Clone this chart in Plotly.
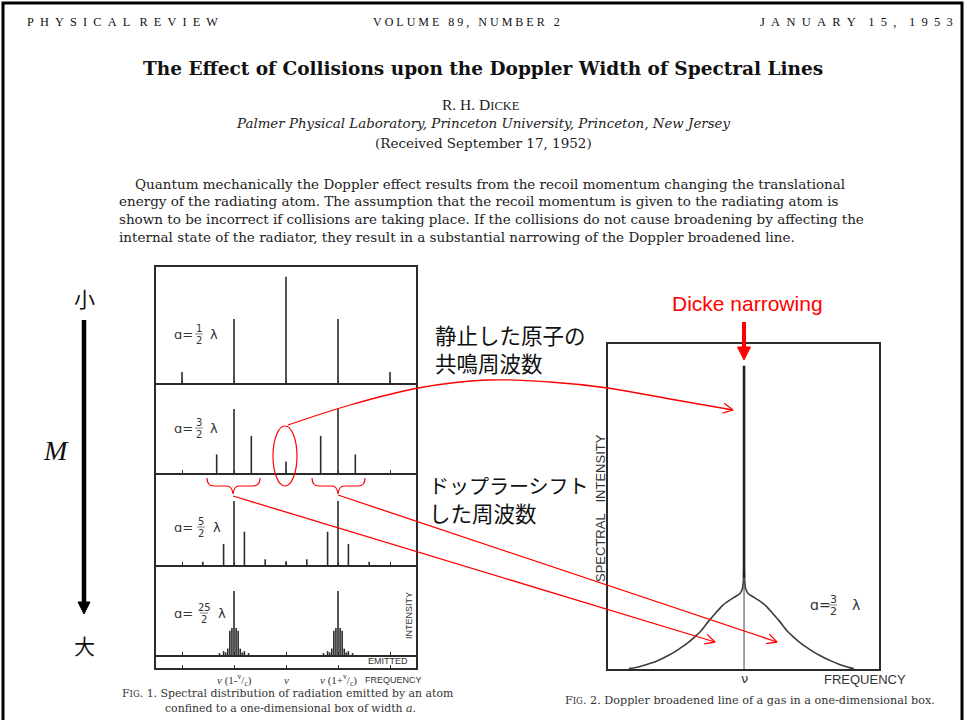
import math
import plotly.graph_objects as go

W, H = 967, 720
INK = "#2b2b2b"
RED = "#ff0000"
SERIF = "DejaVu Serif"
TSERIF = "Liberation Serif"
SANS = "Liberation Sans"
CJK = "Noto Sans CJK JP"

# ---------------- Fig. 1 data: line offsets from nu (units of v/c) and relative intensities
p1_offset = [-2, -1, 0, 1, 2]
p1_intensity = [0.17, 1.00, 1.66, 1.00, 0.17]
p2_offset = [-4/3, -1, -2/3, 0, 2/3, 1, 4/3]
p2_intensity = [0.29, 1.00, 0.58, 0.18, 0.58, 1.00, 0.29]
p3_offset = [-1.6, -1.2, -1.0, -0.8, -0.4, 0.0, 0.4, 0.8, 1.0, 1.2, 1.6]
p3_intensity = [0.05, 0.33, 1.00, 0.52, 0.09, 0.06, 0.09, 0.52, 1.00, 0.33, 0.05]
p4_offset = [-1.28, -1.20, -1.16, -1.12, -1.08, -1.04, -1.00, -0.96, -0.92, -0.88, -0.84, -0.80, -0.72,
             0.72, 0.80, 0.84, 0.88, 0.92, 0.96, 1.00, 1.04, 1.08, 1.12, 1.16, 1.20, 1.28]
p4_intensity = [0.03, 0.06, 0.04, 0.10, 0.38, 0.42, 1.00, 0.42, 0.38, 0.10, 0.04, 0.06, 0.03,
                0.03, 0.06, 0.04, 0.10, 0.38, 0.42, 1.00, 0.42, 0.38, 0.10, 0.04, 0.06, 0.03]
panel_num = ["1", "3", "5", "25"]
panel_den = ["2", "2", "2", "2"]
fig1_ticks = [-2, -1, 0, 1, 2]

# ---------------- Fig. 2 data: Doppler broadened line with Dicke-narrowed core
f2_left_x = [-3.20, -3.00, -2.80, -2.60, -2.40, -2.20, -2.00, -1.80, -1.60, -1.40, -1.20, -1.00,
             -0.80, -0.60, -0.40, -0.25, -0.12, -0.05, -0.02, -0.008]
f2_left_y = [0.005, 0.02, 0.045, 0.075, 0.11, 0.155, 0.205, 0.265, 0.33, 0.41, 0.50, 0.62,
             0.73, 0.835, 0.905, 0.95, 0.99, 1.05, 1.15, 1.30]
f2_right_x = [0.008, 0.02, 0.05, 0.12, 0.25, 0.40, 0.60, 0.80, 1.00, 1.20, 1.40, 1.60, 1.80,
              2.00, 2.20, 2.40, 2.60, 2.80, 2.95, 3.05]
f2_right_y = [1.30, 1.15, 1.05, 0.99, 0.95, 0.905, 0.835, 0.73, 0.62, 0.50, 0.41, 0.33, 0.265,
              0.205, 0.155, 0.11, 0.07, 0.035, 0.015, 0.005]
f2_spike_x = [0.0, 0.0]
f2_spike_y = [1.20, 3.99]
f2_center = 0.0

# ---------------- layout geometry (pixels)
F1_L, F1_R = 156, 416
PANELS = [(267, 383), (383, 473), (473, 565), (565, 655)]
STRIP = (655, 668)
F2_L, F2_R, F2_T, F2_B = 608, 879, 344, 669
PX_PER_UNIT = 64.0
F2_XR = [-3.78, 3.75]
F2_YR = [0, 4.276]


def xd(l, r):
    return [l / W, r / W]


def yd(t, b):
    return [1 - b / H, 1 - t / H]


fig = go.Figure()

offsets = [p1_offset, p2_offset, p3_offset, p4_offset]
intens = [p1_intensity, p2_intensity, p3_intensity, p4_intensity]
for i, (off, inten) in enumerate(zip(offsets, intens)):
    xs, ys = [], []
    for o, h in zip(off, inten):
        xs += [o, o, None]
        ys += [0, h, None]
    fig.add_trace(go.Scatter(x=xs, y=ys, mode="lines", line=dict(color=INK, width=1.6),
                             xaxis="x%d" % (i + 1) if i else "x", yaxis="y%d" % (i + 1) if i else "y",
                             hoverinfo="skip", showlegend=False))

fig.add_trace(go.Scatter(x=[None], y=[None], xaxis="x5", yaxis="y5", showlegend=False))

# Fig. 2 curve
CURVE = "#3c3c3c"
for xs, ys in [(f2_left_x, f2_left_y), (f2_right_x, f2_right_y)]:
    fig.add_trace(go.Scatter(x=xs, y=ys, mode="lines", line=dict(color=CURVE, width=1.6, shape="spline", smoothing=0.7),
                             xaxis="x6", yaxis="y6", hoverinfo="skip", showlegend=False))
fig.add_trace(go.Scatter(x=f2_spike_x, y=f2_spike_y, mode="lines", line=dict(color="#222", width=2.6),
                         xaxis="x6", yaxis="y6", hoverinfo="skip", showlegend=False))
fig.add_trace(go.Scatter(x=[f2_center, f2_center], y=[0, f2_spike_y[0]], mode="lines",
                         line=dict(color="#555", width=1.1), xaxis="x6", yaxis="y6",
                         hoverinfo="skip", showlegend=False))


# ---------------- overlay (pixel space) annotations
def ov(xs, ys, color=RED, width=1.3, shape="linear", fill=None):
    fig.add_trace(go.Scatter(x=xs, y=ys, mode="lines", xaxis="x7", yaxis="y7",
                             line=dict(color=color, width=width, shape=shape, smoothing=1.0),
                             fill=fill, fillcolor=color, hoverinfo="skip", showlegend=False))


def chevron(tip, frm, L=11, ang=27):
    dx, dy = tip[0] - frm[0], tip[1] - frm[1]
    n = math.hypot(dx, dy)
    bx, by = -dx / n, -dy / n
    pts = []
    for s in (1, -1):
        a = math.radians(ang * s)
        rx = bx * math.cos(a) - by * math.sin(a)
        ry = bx * math.sin(a) + by * math.cos(a)
        pts.append((tip[0] + L * rx, tip[1] + L * ry))
    ov([pts[0][0], tip[0], pts[1][0]], [pts[0][1], tip[1], pts[1][1]])


cx = [288, 350, 418, 487, 550, 608, 670, 733]
cy = [425, 405, 388, 380, 382, 388, 399, 410]
ov(cx, cy, shape="spline")
chevron((733, 410), (700, 404))
ov([233, 715], [496, 642])
chevron((715, 642), (233, 496))
ov([338, 777], [495, 642])
chevron((777, 642), (338, 495))
ov([744, 744], [322, 349], width=4)
ov([737.5, 750.5, 744, 737.5], [347, 347, 360, 347], width=1, fill="toself")
ov([84, 84], [320, 604], color="black", width=4.5)
ov([78, 90, 84, 78], [602, 602, 614, 602], color="black", width=1, fill="toself")

shapes = []
shapes.append(dict(type="rect", xref="x7", yref="y7", x0=3, x1=962, y0=3, y1=730,
                   line=dict(color="black", width=3), layer="above"))
shapes.append(dict(type="circle", xref="x7", yref="y7", x0=273, x1=297, y0=426, y1=486,
                   line=dict(color=RED, width=1.2), layer="above"))


def brace(x0, x1, xm, yt=478, yh=486, yb=494):
    return ("M %f,%f Q %f,%f %f,%f L %f,%f Q %f,%f %f,%f Q %f,%f %f,%f L %f,%f Q %f,%f %f,%f" %
            (x0, yt, x0, yh, x0 + 7, yh, xm - 6, yh, xm - 1, yh, xm, yb,
             xm + 1, yh, xm + 6, yh, x1 - 7, yh, x1, yh, x1, yt))


for (a, b, m) in [(207, 260, 233), (312, 365, 338)]:
    shapes.append(dict(type="path", xref="x7", yref="y7", path=brace(a, b, m),
                       line=dict(color=RED, width=1.2), layer="above"))

ann = []


def T(x, y, text, size=12, family=SERIF, color=INK, xa="center", ya="middle", angle=0, align="center"):
    ann.append(dict(x=x, y=y, xref="x7", yref="y7", text=text, showarrow=False,
                    font=dict(size=size, family=family, color=color), align=align,
                    xanchor=xa, yanchor=ya, textangle=angle))


def spaced(s, gap=1, wgap=3):
    g = "\u00a0" * gap
    return ("\u00a0" * wgap).join(g.join(list(w)) for w in s.split(" "))


# header
T(25, 22, spaced("PHYSICAL REVIEW", 2, 3), 12.3, family=TSERIF, xa="left", color="#111")
T(466, 22, spaced("VOLUME 89, NUMBER 2", 1, 3), 12, family=TSERIF, color="#111")
T(955, 22, spaced("JANUARY 15, 1953", 2, 4), 12.5, family=TSERIF, xa="right", color="#111")
T(483, 68, "<b>The Effect of Collisions upon the Doppler Width of Spectral Lines</b>", 18.5, color="#111")
T(481, 104, "R. H. D<span style='font-size:12.5px'>ICKE</span>", 15.5, family=TSERIF, color="#222")
T(483, 123, "<i>Palmer Physical Laboratory, Princeton University, Princeton, New Jersey</i>", 13.4, color="#222")
T(483, 143, "(Received September 17, 1952)", 13.5, color="#222")
abstract = [
    (133, 184, "Quantum mechanically the Doppler effect results from the recoil momentum changing the translational"),
    (117, 201, "energy of the radiating atom. The assumption that the recoil momentum is given to the radiating atom is"),
    (117, 219, "shown to be incorrect if collisions are taking place. If the collisions do not cause broadening by affecting the"),
    (117, 237, "internal state of the radiator, they result in a substantial narrowing of the Doppler broadened line."),
]
for x, y, s in abstract:
    T(x, y, s, 13.5, xa="left", color="#222")


def alabel(xa, xf, xl, yc, num, den, size=13, fsize=10):
    T(xa, yc, "ɑ=", size, family="DejaVu Sans", xa="left", color="#333")
    T(xf, yc - 6, num, fsize, family="DejaVu Sans", color="#333")
    T(xf, yc + 6, den, fsize, family="DejaVu Sans", color="#333")
    T(xl, yc, "λ", size, family="DejaVu Sans", color="#333")
    shapes.append(dict(type="line", xref="x7", yref="y7", x0=xf - 4, x1=xf + 4, y0=yc, y1=yc,
                       line=dict(color="#666", width=0.8)))


label_pos = [(172, 199, 214, 334), (172, 199, 214, 428), (172, 201, 217, 527), (172, 204, 222, 613)]
for (xa, xf, xl, yc), n, d in zip(label_pos, panel_num, panel_den):
    alabel(xa, xf, xl, yc, n, d)
alabel(808, 833, 856, 605, "3", "2", size=14, fsize=11)

# Fig.1 texts
T(410, 661, "EMITTED", 9, family=SANS, xa="right", color="#333")
T(409, 616, "INTENSITY", 9, family=SANS, angle=-90, color="#333")
T(393, 680, "FREQUENCY", 9, family=SANS, color="#333")
T(234, 680, "<i>ν</i> (1-<sup>v</sup>/<sub>c</sub>)", 11, family=TSERIF, color="#333")
T(286, 680, "<i>ν</i>", 11, family=TSERIF, color="#333")
T(338, 680, "<i>ν</i> (1+<sup>v</sup>/<sub>c</sub>)", 11, family=TSERIF, color="#333")
T(288, 693, "F<span style='font-size:8.5px'>IG</span>. 1. Spectral distribution of radiation emitted by an atom", 10.9, color="#333")
T(290, 708, "confined to a one-dimensional box of width <i>a</i>.", 10.9, color="#333")

# Fig.2 texts
T(600, 508, "SPECTRAL\u00a0\u00a0\u00a0INTENSITY", 13, family=SANS, angle=-90, color="#333")
T(744, 678, "ν", 13, family="DejaVu Sans", color="#333")
T(865, 679, "FREQUENCY", 13, family=SANS, color="#333")
T(750, 700, "F<span style='font-size:8.5px'>IG</span>. 2. Doppler broadened line of a gas in a one-dimensional box.", 11.2, color="#333")

# red / Japanese annotations
T(747, 303, "Dicke narrowing", 21, family=SANS, color=RED)
T(433, 348.5, "静止した原子の<br>共鳴周波数", 21.5, family=CJK, xa="left", color="#111", align="left")
T(427, 499.5, "<span style='font-size:20px'>ドップラーシフト</span><br>した周波数", 21.5, family=CJK,
  xa="left", color="#111", align="left")
T(84, 298, "小", 21, family=CJK, color="#111")
T(84, 645, "大", 21, family=CJK, color="#111")
T(56, 450, "<i>M</i>", 28, family=TSERIF, color="#111")

# ---------------- axes
base = dict(showgrid=False, zeroline=False, showline=True, linecolor=INK,
            linewidth=1.5, showticklabels=False, fixedrange=True)
lay = {}
for i, (t, b) in enumerate(PANELS):
    k = "" if i == 0 else str(i + 1)
    lay["xaxis" + k] = dict(base, domain=xd(F1_L, F1_R), range=[-2.5, 2.5], anchor="y" + k,
                            mirror=(i == 0), tickmode="array", tickvals=fig1_ticks, ticks="inside",
                            ticklen=3, tickcolor=INK, tickwidth=1.2)
    lay["yaxis" + k] = dict(base, domain=yd(t, b), range=[0, (b - t) / PX_PER_UNIT], anchor="x" + k,
                            mirror=True, ticks="")
lay["xaxis5"] = dict(base, domain=xd(F1_L, F1_R), range=[-2.5, 2.5], anchor="y5", mirror=False,
                     tickmode="array", tickvals=fig1_ticks, ticks="inside", ticklen=3,
                     tickcolor=INK, tickwidth=1.2)
lay["yaxis5"] = dict(base, domain=yd(*STRIP), range=[0, 1], anchor="x5", mirror=True, ticks="")
lay["xaxis6"] = dict(base, domain=xd(F2_L, F2_R), range=F2_XR, anchor="y6", mirror=True, ticks="")
lay["yaxis6"] = dict(base, domain=yd(F2_T, F2_B), range=F2_YR, anchor="x6", mirror=True, ticks="")
lay["xaxis7"] = dict(domain=[0, 1], range=[0, W], visible=False, anchor="y7", fixedrange=True)
lay["yaxis7"] = dict(domain=[0, 1], range=[H, 0], visible=False, anchor="x7", fixedrange=True)

fig.update_layout(width=W, height=H, margin=dict(l=0, r=0, t=0, b=0),
                  paper_bgcolor="white", plot_bgcolor="rgba(0,0,0,0)",
                  showlegend=False, shapes=shapes, annotations=ann, **lay)

fig.write_html("out.html", config={"displayModeBar": False})
